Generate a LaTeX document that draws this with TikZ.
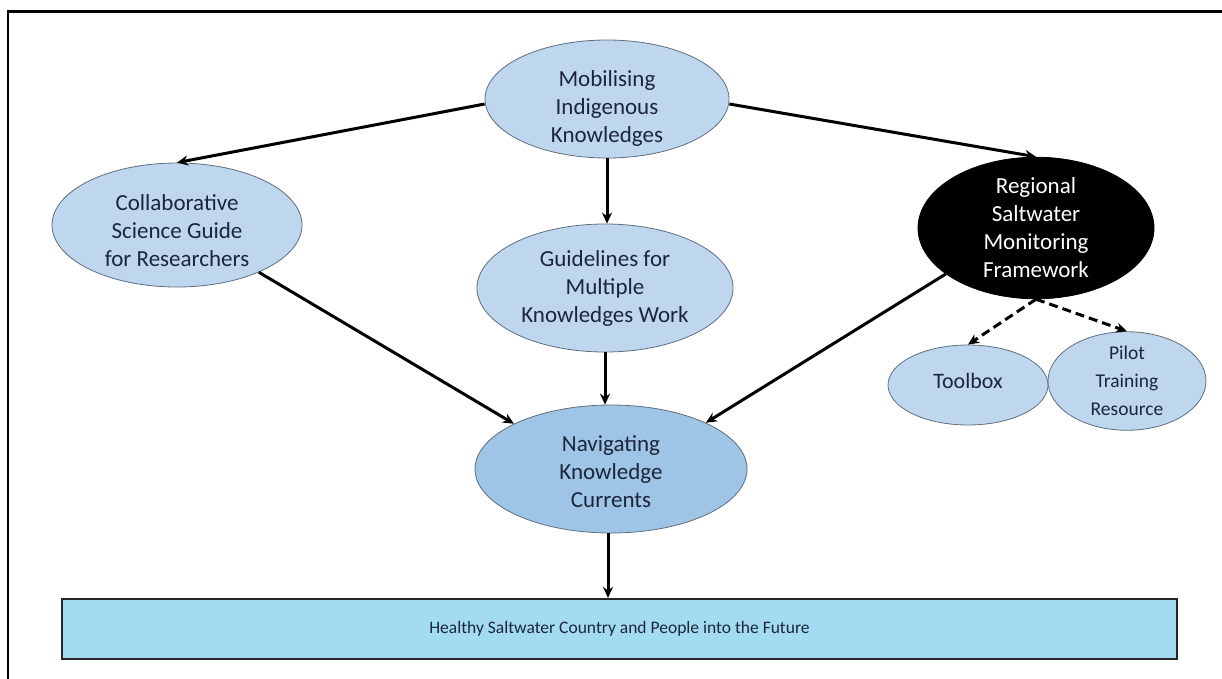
\documentclass[tikz,border=0pt]{standalone}
\usepackage{fontspec}
\setmainfont{Carlito}
\usetikzlibrary{shapes.geometric,arrows.meta}
\definecolor{paleblue}{RGB}{190,215,238}
\definecolor{midblue}{RGB}{158,196,230}
\definecolor{barblue}{RGB}{162,219,242}
\definecolor{rimgray}{RGB}{95,110,125}
\definecolor{inkblue}{RGB}{28,38,58}
\tikzset{
  words/.style={align=center, text=inkblue, font=\fontsize{23}{28}\selectfont},
  bubble/.style={ellipse, draw=rimgray, line width=0.8pt, fill=paleblue,
    inner sep=0pt, words},
  flow/.style={line width=3pt, -{Stealth[length=11pt,width=10pt]}},
  dflow/.style={flow, dash pattern=on 9pt off 5pt}
}
\begin{document}
\begin{tikzpicture}[x=1pt,y=-1pt]
\useasboundingbox (0,0) rectangle (1222,678);
% outer frame (left and top edges)
\draw[line width=2.5pt] (8,690) -- (8,11.5) -- (1230,11.5);

\node[bubble, minimum width=244pt, minimum height=118pt,
  label={[words, yshift=-9pt]center:{Mobilising\\Indigenous\\Knowledges}}] (mob) at (607,99) {};
\node[bubble, minimum width=250pt, minimum height=124pt,
  label={[words, yshift=-6pt]center:{Collaborative\\Science Guide\\for Researchers}}] (col) at (177,225) {};
\node[bubble, minimum width=256pt, minimum height=128pt] (gui) at (605,288)
  {Guidelines for\\Multiple\\Knowledges Work};
\node[bubble, fill=black, draw=black, text=white, minimum width=236pt, minimum height=130pt] (reg) at (1036,228)
  {Regional\\Saltwater\\Monitoring\\Framework};
\node[bubble, fill=midblue, minimum width=272pt, minimum height=128pt,
  label={[words, yshift=-3pt]center:{Navigating\\Knowledge\\Currents}}] (nav) at (611,469) {};
\node[bubble, minimum width=160pt, minimum height=80pt, font=\fontsize{22}{28}\selectfont,
  label={[words, font=\fontsize{22}{28}\selectfont, yshift=4pt]center:Toolbox}] (tool) at (968,385) {};
\node[bubble, minimum width=158pt, minimum height=86pt, font=\fontsize{19.5}{28}\selectfont] (pilot) at (1127,381)
  {Pilot\\Training\\Resource};

\node[draw=black!85, line width=2.2pt, fill=barblue, minimum width=1115pt, minimum height=60pt,
  inner sep=0pt, text=inkblue, font=\fontsize{17.5}{21}\selectfont] (goal) at (619.5,629)
  {Healthy Saltwater Country and People into the Future};

\draw[flow] (mob.west) ++(0,5) coordinate (m1) (m1) -- (col.north);
\draw[flow] (mob.east) ++(0,5) coordinate (m2) (m2) -- (reg.north);
\draw[flow] (mob.south) -- (mob.south |- gui.north);
\draw[flow] (col.-30) -- (nav.155);
\draw[flow] (gui.south) -- (gui.south |- nav.north);
\draw[flow] (reg.-153) -- (nav.26);
\draw[dflow] (reg.south) -- (tool.north);
\draw[dflow] (reg.south) -- (pilot.north);
\draw[flow] (nav.south) ++(-3,0) coordinate (n1) (n1) -- (n1 |- goal.north);
\end{tikzpicture}
\end{document}
